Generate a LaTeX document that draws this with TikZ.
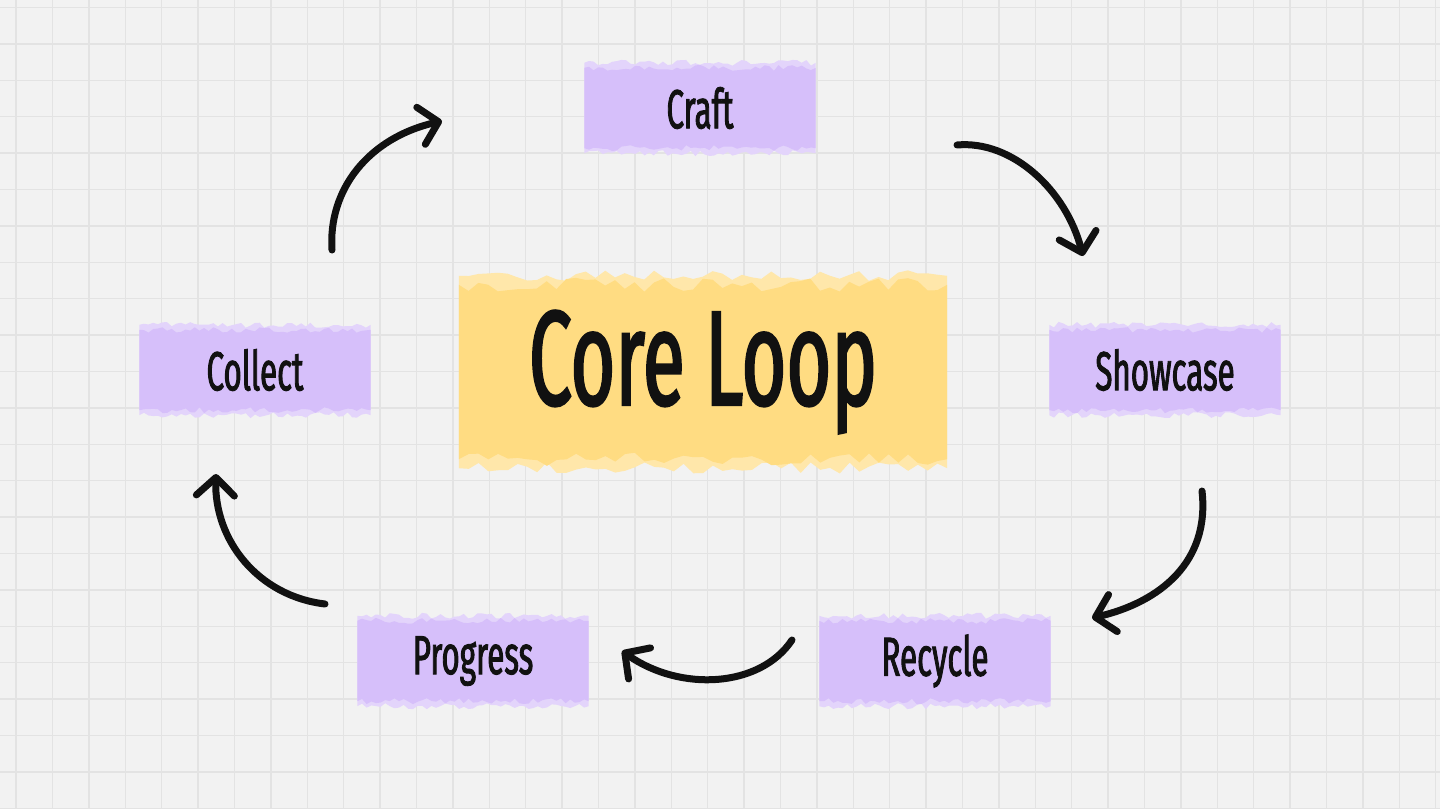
\documentclass[tikz,border=0pt]{standalone}
\usepackage{fontspec}
\setmainfont{Fira Sans}[FakeStretch=0.57, FakeBold=1.6]
\usepackage{xcolor}
\usetikzlibrary{arrows.meta,calc}
\definecolor{sheetbg}{HTML}{F2F2F2}
\definecolor{sheetline}{HTML}{E3E3E3}
\definecolor{notelilac}{HTML}{D6BFFA}
\definecolor{notelilaclight}{HTML}{E3D4FB}
\definecolor{noteyellow}{HTML}{FFDC82}
\definecolor{noteyellowlight}{HTML}{FFE7AA}
\definecolor{inkdark}{HTML}{111111}

\pgfdeclarelayer{sheet}
\pgfdeclarelayer{paper}
\pgfsetlayers{sheet,paper,main}

% torn strip behind a node: node, colour, offset of the edge, roughness
\newcommand{\tornstrip}[4]{%
  \fill[#2] ($(#1.south west)+(0,#3)$)
    -- ($(#1.north west)+(0,-#3)$)
    \foreach \t in {0.02,0.04,...,0.981} { -- ($(#1.north west)!\t!(#1.north east)+(0,{-#3+#4*rand})$) }
    -- ($(#1.north east)+(0,-#3)$)
    -- ($(#1.south east)+(0,#3)$)
    \foreach \t in {0.98,0.96,...,0.019} { -- ($(#1.south west)!\t!(#1.south east)+(0,{#3+#4*rand})$) }
    -- cycle;
}

\begin{document}
\begin{tikzpicture}[
    x=1pt, y=-1pt,
    note/.style={minimum width=231pt, minimum height=80pt, inner sep=0pt, text=inkdark,
      font=\fontsize{55}{60}\selectfont},
    corenote/.style={minimum width=488pt, minimum height=174pt, inner sep=0pt, text=inkdark,
      font=\fontsize{135}{140}\selectfont},
    gridline/.style={draw=sheetline, line width=1.4pt},
    cyc/.style={draw=inkdark, line width=7pt, line cap=round,
      -{Straight Barb[length=18pt, width=38pt, round]}},
  ]
  \pgfmathsetseed{11}
  \useasboundingbox (0,0) rectangle (1440,809);

  % ---- squared sheet
  \begin{pgfonlayer}{sheet}
    \fill[sheetbg] (0,0) rectangle (1440,809);
    \foreach \gx in {0,...,39}
      \draw[gridline] ({16+36.4*\gx},0) -- ({16+36.4*\gx},809);
    \foreach \gy in {0,...,22}
      \draw[gridline] (0,{7.5+36.4*\gy}) -- (1440,{7.5+36.4*\gy});
  \end{pgfonlayer}

  % ---- the loop steps
  \node[corenote] (core) at (703,372) {Core Loop};
  \node[note] (craft)    at (700,108) {Craft};
  \node[note] (showcase) at (1165,370) {Showcase};
  \node[note] (recycle)  at (935,661) {Recycle};
  \node[note] (progress) at (473,661) {Progress};
  \node[note] (collect)  at (255,370) {Collect};

  % ---- torn paper under the labels
  \begin{pgfonlayer}{paper}
    \tornstrip{core}{noteyellowlight}{9}{6}
    \tornstrip{core}{noteyellow}{0}{7}
    \foreach \n in {craft,showcase,recycle,progress,collect} {
      \tornstrip{\n}{notelilaclight}{5}{3}
      \tornstrip{\n}{notelilac}{0}{3}
    }
  \end{pgfonlayer}

  % ---- ends of the hand drawn arrows
  \coordinate (collect-out)  at (332,250);
  \coordinate (craft-in)     at (442,121);
  \coordinate (craft-out)    at (957,145);
  \coordinate (showcase-in)  at (1083,256);
  \coordinate (showcase-out) at (1202,491);
  \coordinate (recycle-in)   at (1092,618);
  \coordinate (recycle-out)  at (792,640);
  \coordinate (progress-in)  at (622,651);
  \coordinate (progress-out) at (325,604);
  \coordinate (collect-in)   at (216,474);

  % ---- the cycle
  \draw[cyc] (collect-out)  .. controls (328,190) and (368,138) .. (craft-in);
  \draw[cyc] (craft-out)    .. controls (1012,140) and (1066,190) .. (showcase-in);
  \draw[cyc] (showcase-out) .. controls (1210,562) and (1160,602) .. (recycle-in);
  \draw[cyc] (recycle-out)  .. controls (760,688) and (680,692) .. (progress-in);
  \draw[cyc] (progress-out) .. controls (258,596) and (214,540) .. (collect-in);

\end{tikzpicture}
\end{document}
